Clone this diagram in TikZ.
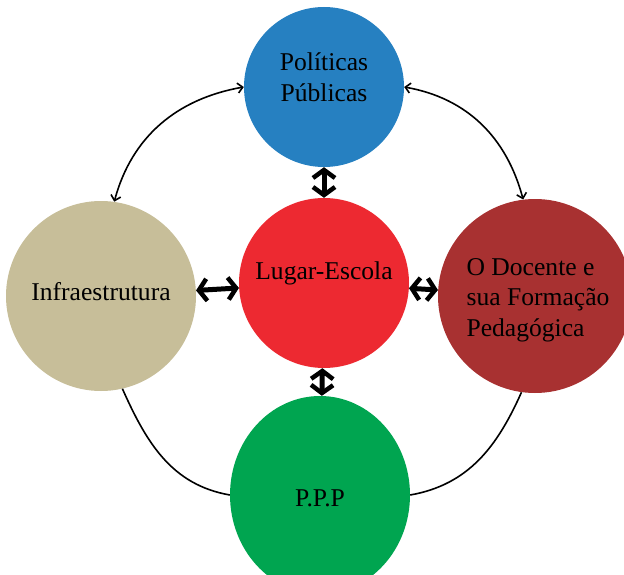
\documentclass[tikz,border=0pt]{standalone}
\usepackage{fontspec}
\setmainfont{Liberation Serif}
\usetikzlibrary{arrows.meta,shapes.geometric}
\definecolor{cblue}{RGB}{38,128,193}
\definecolor{cbeige}{RGB}{199,190,153}
\definecolor{cred}{RGB}{237,41,49}
\definecolor{cdred}{RGB}{168,49,49}
\definecolor{cgreen}{RGB}{0,165,80}
\tikzset{
  circ/.style={circle, minimum size=#1, inner sep=0pt},
  elli/.style={ellipse, inner sep=0pt},
  txt/.style={inner sep=0pt, align=center, font=\fontsize{25.6}{30.5}\selectfont},
  dbl/.style={{Straight Barb[length=8pt,width=22pt,line width=4.5pt]}-{Straight Barb[length=8pt,width=22pt,line width=4.5pt]}, line width=5pt},
  arc/.style={{Straight Barb[length=5pt,width=10pt]}-{Straight Barb[length=5pt,width=10pt]}, line width=1.6pt},
  lin/.style={line width=1.6pt},
}

\begin{document}
\begin{tikzpicture}[x=1pt,y=-1pt]

\useasboundingbox (0,0) rectangle (624,575);
\clip (0,0) rectangle (624,575);

\node[circ=160, fill=cblue] (pol) at (324,87) {};
\node[circ=190, fill=cbeige] (inf) at (101,296) {};
\node[circ=170, fill=cred] (lug) at (324,283) {};
\node[circ=194, fill=cdred] (doc) at (535,296) {};
\node[elli, fill=cgreen, minimum width=180, minimum height=198] (ppp) at (320,495) {};

\node[txt, yshift=10pt] (poltxt) at (pol) {Políticas\\Públicas};
\node[txt, yshift=4pt] (inftxt) at (inf) {Infraestrutura};
\node[txt, yshift=10pt] (lugtxt) at (lug) {Lugar-Escola};
\node[txt, align=left, xshift=3pt, yshift=-4pt] (doctxt) at (doc) {O Docente e\\sua Formação\\Pedagógica};
\node[txt, yshift=-3pt] (ppptxt) at (ppp) {P.P.P};

\draw[dbl] (pol) -- (lug);
\draw[dbl] (lug) -- (inf);
\draw[dbl] (lug) -- (doc);
\draw[dbl] (lug) -- (ppp);

\draw[arc] (pol.west) to[out=190, in=75] (inf.82);
\draw[arc] (pol.east) to[out=-10, in=105] (doc.97);
\draw[lin] (inf.-77) to[out=-66, in=170] (ppp.west);
\draw[lin] (ppp.east) to[out=10, in=-114] (doc.-98);

\end{tikzpicture}
\end{document}
